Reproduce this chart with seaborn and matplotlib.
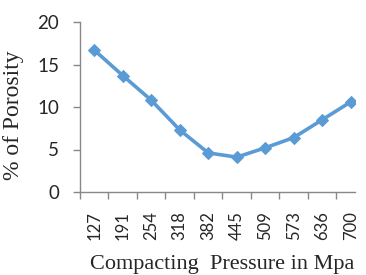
import numpy as np
import pandas as pd
import seaborn as sns
import matplotlib.pyplot as plt

# compacting pressure (Mpa) vs porosity (%)
pressure = ['127', '191', '254', '318', '382', '445', '509', '573', '636', '700']
porosity = [16.7, 13.7, 10.8, 7.3, 4.6, 4.1, 5.2, 6.4, 8.5, 10.6]

df = pd.DataFrame({'pressure': pressure, 'porosity': porosity})

sns.set_style('white')
plt.rcParams['font.family'] = ['Liberation Serif', 'DejaVu Serif']

fig = plt.figure(figsize=(3.66, 2.75), dpi=100)
ax = fig.add_axes([80 / 366, 1 - 192 / 275, 275 / 366, 170 / 275])

x = np.arange(len(pressure))
sns.lineplot(x=x, y=df['porosity'], ax=ax, color='#5B9BD5', linewidth=2.6,
             marker='D', markersize=6.5, markeredgecolor='#5B9BD5')

ax.set_xlim(-0.5, 9.15)
ax.set_ylim(0, 20)
ax.set_yticks([0, 5, 10, 15, 20])
ax.set_xticks(x)
ax.set_xticklabels(pressure, rotation=90, fontfamily='Lato', fontsize=12)
ax.set_xticks(np.arange(-0.5, 9.0, 1), minor=True)
ax.tick_params(axis='x', which='major', length=0, pad=14)
ax.tick_params(axis='x', which='minor', bottom=True, length=5, color='#888888', width=1)
ax.tick_params(axis='y', left=True, length=5, color='#888888', width=1, pad=10)
for t in ax.get_yticklabels():
    t.set_fontfamily('Lato')
    t.set_fontsize(13.5)

for s in ['top', 'right']:
    ax.spines[s].set_visible(False)
for s in ['left', 'bottom']:
    ax.spines[s].set_visible(True)
    ax.spines[s].set_color('#888888')
    ax.spines[s].set_linewidth(1)

ax.set_xlabel('Compacting  Pressure in Mpa', fontsize=16)
ax.xaxis.set_label_coords(0.517, -0.37)
ax.set_ylabel('% of Porosity', fontsize=17)
ax.yaxis.set_label_coords(-0.205, 0.453)

fig.savefig('out.png', dpi=100)
